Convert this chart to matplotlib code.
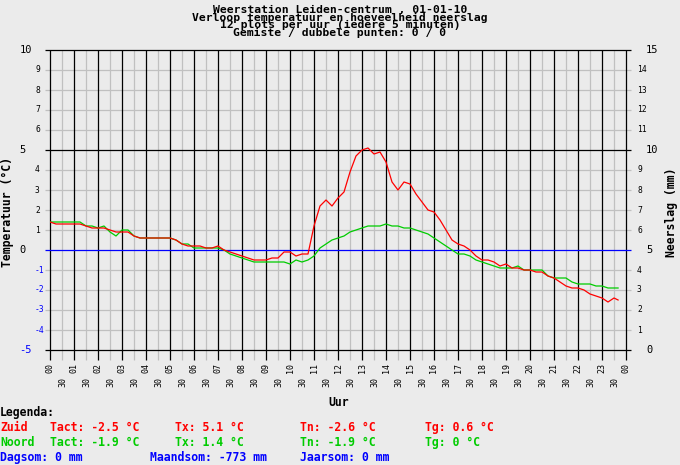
import matplotlib
matplotlib.use("Agg")
import matplotlib.pyplot as plt
import numpy as np

# uren (kwartierwaarden, laatste punt 23:40)
hours = np.append(np.arange(0, 23.6, 0.25), 23.67)

zuid = [1.4, 1.3, 1.3, 1.3, 1.3, 1.3, 1.2, 1.1,
        1.1, 1.1, 1.0, 0.9, 0.9, 0.9, 0.7, 0.6,
        0.6, 0.6, 0.6, 0.6, 0.6, 0.5, 0.3, 0.2,
        0.2, 0.2, 0.1, 0.1, 0.2, 0.0, -0.1, -0.2,
        -0.3, -0.4, -0.5, -0.5, -0.5, -0.4, -0.4, -0.1,
        -0.1, -0.3, -0.2, -0.2, 1.2, 2.2, 2.5, 2.2,
        2.6, 2.9, 3.9, 4.7, 5.0, 5.1, 4.8, 4.9,
        4.4, 3.4, 3.0, 3.4, 3.3, 2.8, 2.4, 2.0,
        1.9, 1.5, 1.0, 0.5, 0.3, 0.2, 0.0, -0.3,
        -0.5, -0.5, -0.6, -0.8, -0.7, -0.9, -0.9, -1.0,
        -1.0, -1.1, -1.1, -1.3, -1.4, -1.6, -1.8, -1.9,
        -1.9, -2.0, -2.2, -2.3, -2.4, -2.6, -2.4, -2.5]

noord = [1.4, 1.4, 1.4, 1.4, 1.4, 1.4, 1.2, 1.2,
         1.1, 1.2, 0.9, 0.7, 1.0, 1.0, 0.7, 0.6,
         0.6, 0.6, 0.6, 0.6, 0.6, 0.5, 0.3, 0.3,
         0.1, 0.1, 0.1, 0.1, 0.1, 0.0, -0.2, -0.3,
         -0.4, -0.5, -0.6, -0.6, -0.6, -0.6, -0.6, -0.6,
         -0.7, -0.5, -0.6, -0.5, -0.3, 0.1, 0.3, 0.5,
         0.6, 0.7, 0.9, 1.0, 1.1, 1.2, 1.2, 1.2,
         1.3, 1.2, 1.2, 1.1, 1.1, 1.0, 0.9, 0.8,
         0.6, 0.4, 0.2, 0.0, -0.2, -0.2, -0.3, -0.5,
         -0.6, -0.7, -0.8, -0.9, -0.9, -0.9, -0.8, -1.0,
         -1.0, -1.0, -1.0, -1.3, -1.4, -1.4, -1.4, -1.6,
         -1.7, -1.7, -1.7, -1.8, -1.8, -1.9, -1.9, -1.9]

title_lines = ["Weerstation Leiden-centrum , 01-01-10",
               "Verloop temperatuur en hoeveelheid neerslag",
               "12 plots per uur (iedere 5 minuten)",
               "Gemiste / dubbele punten: 0 / 0"]

temp_ticks = list(range(-5, 11))
hour_labels = ["%02d" % h for h in range(24)] + ["00"]

RED = "#ff0000"
GREEN = "#00cc00"
BLUE = "#0000ff"
GRID = "#c0c0c0"
BG = "#ebebeb"
MONO = "DejaVu Sans Mono"

W, H = 680, 465
fig = plt.figure(figsize=(W / 100, H / 100), dpi=100, facecolor=BG)


def px(x, y):
    """pixel -> figuur-fractie"""
    return x / W, 1 - y / H


def text(x, y, s, **kw):
    fx, fy = px(x, y)
    kw.setdefault("family", MONO)
    fig.text(fx, fy, s, **kw)


L, R, T, B = 50, 626, 50, 350
ax = fig.add_axes([L / W, 1 - B / H, (R - L) / W, (B - T) / H])
ax.set_facecolor(BG)
ax.set_xlim(0, 24)
ax.set_ylim(-5, 10)
ax.axis("off")

ext_x = 5 / 24.0   # 5 px in uren
ext_y = 10 / 20.0  # 10 px in graden

# horizontale lijnen
for v in temp_ticks:
    if v == 0:
        c, z = BLUE, 3
    elif v in (-5, 5, 10):
        c, z = "black", 2
    else:
        c, z = GRID, 1
    ax.plot([-ext_x, 24 + ext_x], [v, v], color=c, lw=0.9, zorder=z,
            clip_on=False, solid_capstyle="butt")

# verticale lijnen
for i in range(49):
    h = i / 2
    c, z = ("black", 2) if i % 2 == 0 else (GRID, 1)
    ax.plot([h, h], [-5 - ext_y, 10], color=c, lw=0.9, zorder=z,
            clip_on=False, solid_capstyle="butt")

ax.plot(hours, noord, color=GREEN, lw=0.9, zorder=4)
ax.plot(hours, zuid, color=RED, lw=0.9, zorder=5)

# titel, één tekstblok met krappe regelafstand
text(340, 21.5, "\n".join(title_lines), ha="center", va="center",
     multialignment="center", fontsize=8.2, weight="bold", linespacing=0.74)

# y-as labels links en rechts
for v in temp_ticks:
    y = 250 - 20 * v
    col = BLUE if v < 0 else "black"
    if v % 5 == 0:
        text(19.5, y, str(v), ha="left", va="center", fontsize=7.5, color=col)
        text(646, y, str(v + 5), ha="left", va="center", fontsize=7.5)
    else:
        text(35, y, str(v), ha="left", va="center", fontsize=5.8, color=col)
        text(637, y, str(v + 5), ha="left", va="center", fontsize=5.8)

text(7.5, 212, "Temperatuur (°C)", ha="center", va="center", rotation=90,
     fontsize=8.3, weight="bold")
text(672, 212, "Neerslag (mm)", ha="center", va="center", rotation=90,
     fontsize=8.3, weight="bold")

# x-as labels
for i, lab in enumerate(hour_labels):
    x = L + 24 * i
    text(x, 363, lab, ha="center", va="top", rotation=90, fontsize=6)
    if i < 24:
        text(x + 13, 377, "30", ha="center", va="top", rotation=90, fontsize=6)

text(339, 402, "Uur", ha="center", va="center", fontsize=8.3, weight="bold")

# legenda
bold = dict(va="center", fontsize=8.3, weight="bold")
text(0, 412, "Legenda:", color="black", **bold)
text(0, 427, "Zuid", color=RED, **bold)
text(50, 427, "Tact: -2.5 °C", color=RED, **bold)
text(175, 427, "Tx: 5.1 °C", color=RED, **bold)
text(300, 427, "Tn: -2.6 °C", color=RED, **bold)
text(425, 427, "Tg: 0.6 °C", color=RED, **bold)
text(0, 442, "Noord", color=GREEN, **bold)
text(50, 442, "Tact: -1.9 °C", color=GREEN, **bold)
text(175, 442, "Tx: 1.4 °C", color=GREEN, **bold)
text(300, 442, "Tn: -1.9 °C", color=GREEN, **bold)
text(425, 442, "Tg: 0 °C", color=GREEN, **bold)
text(0, 457, "Dagsom: 0 mm", color=BLUE, **bold)
text(150, 457, "Maandsom: -773 mm", color=BLUE, **bold)
text(300, 457, "Jaarsom: 0 mm", color=BLUE, **bold)

fig.savefig("out.png", dpi=100, facecolor=BG)
